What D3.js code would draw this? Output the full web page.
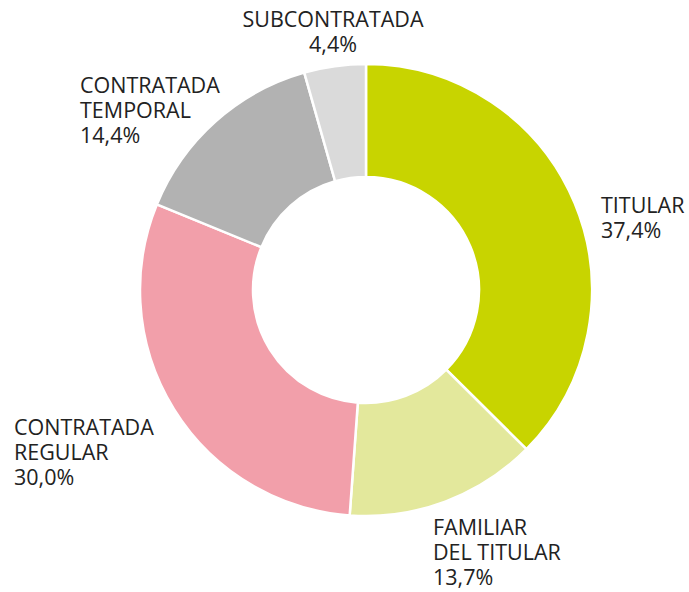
<!DOCTYPE html>
<html>
<head>
<meta charset="utf-8">
<script src="https://cdn.jsdelivr.net/npm/d3@7"></script>
<style>
  body { margin: 0; background: #fff; }
  text { font-family: "Open Sans", sans-serif; font-size: 21.5px; fill: #222; }
</style>
</head>
<body>
<svg id="chart"></svg>
<script>
const categories = ["TITULAR", "FAMILIAR DEL TITULAR", "CONTRATADA REGULAR", "CONTRATADA TEMPORAL", "SUBCONTRATADA"];
const values = [37.4, 13.7, 30.0, 14.4, 4.4];
const colors = ["#c8d400", "#e3e89c", "#f29faa", "#b2b2b2", "#dadada"];
const labelLines = [
  ["TITULAR", "37,4%"],
  ["FAMILIAR", "DEL TITULAR", "13,7%"],
  ["CONTRATADA", "REGULAR", "30,0%"],
  ["CONTRATADA", "TEMPORAL", "14,4%"],
  ["SUBCONTRATADA", "4,4%"]
];

const width = 689, height = 592;
const cx = 366, cy = 290;
const outerR = 226, innerR = 113;

// label anchor positions (first baseline) + alignment
const labelPos = [
  { x: 601, y: 213, anchor: "start" },
  { x: 433, y: 535, anchor: "start" },
  { x: 14, y: 435, anchor: "start" },
  { x: 80, y: 93, anchor: "start" },
  { x: 333, y: 27, anchor: "middle" }
];
const lineH = 25;

const svg = d3.select("#chart").attr("width", width).attr("height", height);

const data = categories.map((c, i) => ({ cat: c, value: values[i], color: colors[i], lines: labelLines[i], pos: labelPos[i] }));

const pie = d3.pie().sort(null).value((d) => d.value);
const arc = d3.arc().innerRadius(innerR).outerRadius(outerR);

const g = svg.append("g").attr("transform", `translate(${cx},${cy})`);

g.selectAll("path")
  .data(pie(data))
  .join("path")
  .attr("d", arc)
  .attr("fill", (d) => d.data.color)
  .attr("stroke", "#fff")
  .attr("stroke-width", 2.5);

svg.selectAll(".lbl")
  .data(data)
  .join("text")
  .attr("class", "lbl")
  .attr("text-anchor", (d) => d.pos.anchor)
  .each(function (d) {
    d3.select(this)
      .selectAll("tspan")
      .data(d.lines)
      .join("tspan")
      .attr("x", d.pos.x)
      .attr("y", (l, i) => d.pos.y + i * lineH)
      .text((l) => l);
  });
</script>
</body>
</html>
